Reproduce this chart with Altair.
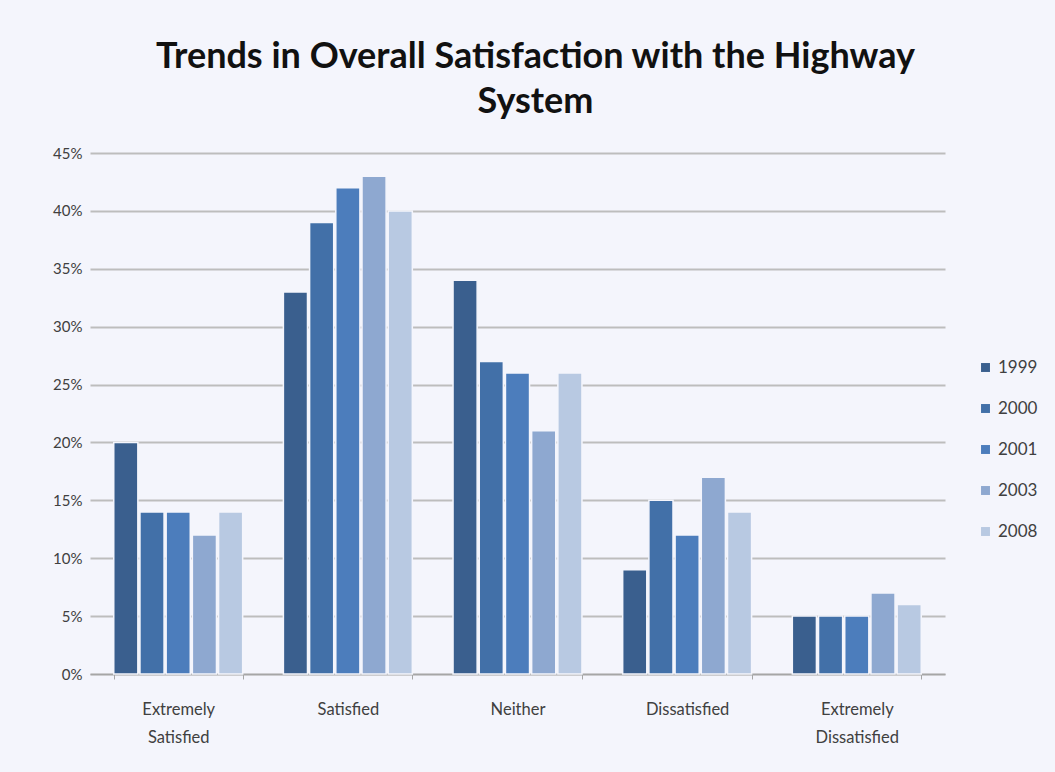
import altair as alt
import pandas as pd

categories = ["Extremely Satisfied", "Satisfied", "Neither", "Dissatisfied", "Extremely Dissatisfied"]
years = ["1999", "2000", "2001", "2003", "2008"]
values = {
    "1999": [20, 33, 34, 9, 5],
    "2000": [14, 39, 27, 15, 5],
    "2001": [14, 42, 26, 12, 5],
    "2003": [12, 43, 21, 17, 7],
    "2008": [14, 40, 26, 14, 6],
}
colors = ["#3A5F8E", "#4270A8", "#4C7DBC", "#8EA8D0", "#B8C9E2"]

rows = []
for y in years:
    for c, v in zip(categories, values[y]):
        rows.append({"Category": c, "Year": y, "Value": v / 100})
df = pd.DataFrame(rows)

bars = alt.Chart(df).mark_bar(stroke="#F4F5FC", strokeWidth=1.5).encode(
    x=alt.X("Category:N", sort=categories, title=None,
            scale=alt.Scale(paddingInner=0.24, paddingOuter=0.14),
            axis=alt.Axis(labelAngle=0, labelExpr="split(datum.label, ' ')",
                          labelLineHeight=28, labelPadding=22, labelFontSize=16.5,
                          labelColor="#404040", domainColor="#A6A6A6", domainWidth=1.5,
                          tickColor="#A6A6A6", tickBand="extent", tickSize=5,
                          labelFont="Lato")),
    xOffset=alt.XOffset("Year:N", sort=years, scale=alt.Scale(paddingInner=0.08)),
    y=alt.Y("Value:Q", title=None,
            scale=alt.Scale(domain=[0, 0.45]),
            axis=alt.Axis(format=".0%", values=[i / 100 for i in range(0, 50, 5)],
                          labelFontSize=15, labelColor="#404040", ticks=False,
                          domain=False, gridColor="#BDBDBD", gridWidth=2,
                          labelPadding=8, labelFont="Lato")),
    color=alt.Color("Year:N", sort=years, title=None,
                    scale=alt.Scale(domain=years, range=colors),
                    legend=alt.Legend(orient="none", legendX=887, legendY=206,
                                      symbolType="square", symbolSize=80,
                                      labelFontSize=17, labelColor="#404040",
                                      labelFont="Lato", rowPadding=23,
                                      symbolStrokeWidth=0)),
)

chart = bars.properties(
    width=855, height=521,
    title=alt.Title(["Trends in Overall Satisfaction with the Highway", "System"],
                    fontSize=36, font="Lato", fontWeight="bold", color="#111111",
                    anchor="middle", lineHeight=45, offset=25, dx=18),
    autosize=alt.AutoSizeParams(type="none"),
    padding={"left": 90, "top": 153, "right": 110, "bottom": 98},
    background="#F4F5FC",
).configure_view(stroke=None)

chart.save("out.html", embed_options={"renderer": "svg", "actions": False})
